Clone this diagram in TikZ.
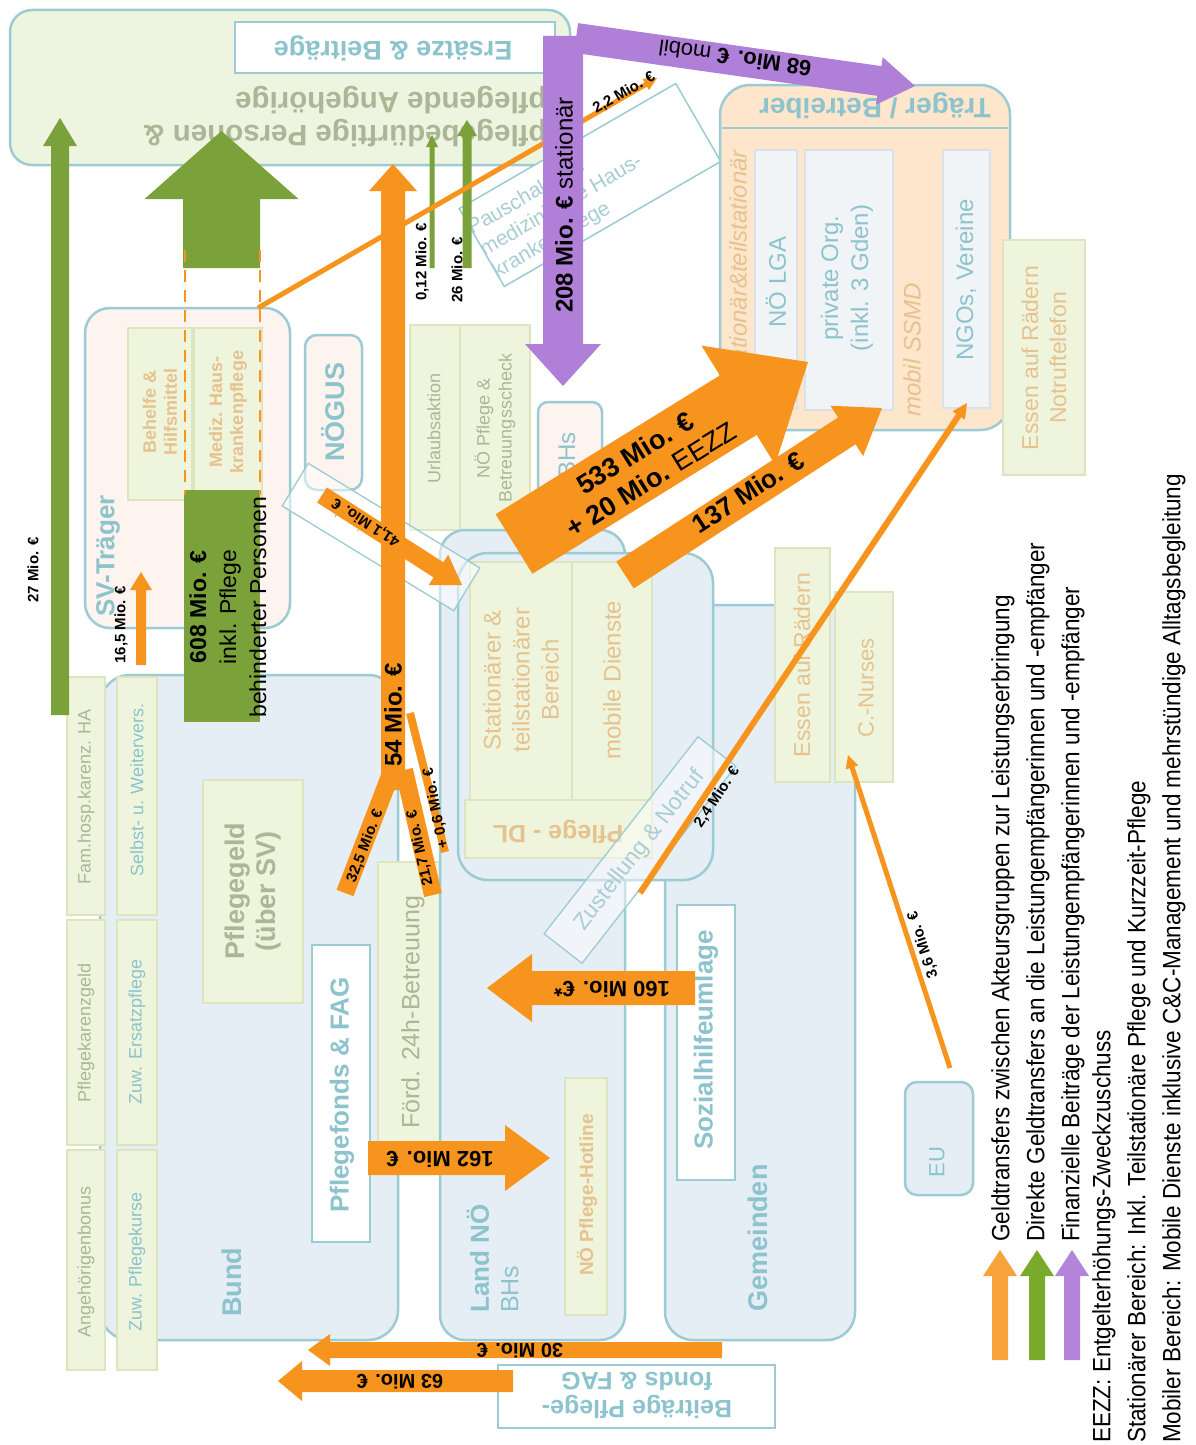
\documentclass[tikz,border=0pt]{standalone}
\usepackage{fontspec}
\setmainfont{Liberation Sans}
\newfontfamily\condfont{Liberation Sans}[FakeStretch=0.9]
\usetikzlibrary{calc,fit}
\definecolor{tealb}{HTML}{9CCBD3}
\definecolor{tealtxt}{HTML}{8CC3CD}
\definecolor{tealtxt2}{HTML}{A9CDD4}
\definecolor{tantxt}{HTML}{E6C28F}
\definecolor{ggtxt}{HTML}{ABB697}
\definecolor{pgreen}{HTML}{EEF5DC}
\definecolor{pgreenb}{HTML}{DCE5C0}
\definecolor{lblue}{HTML}{E6EEF5}
\definecolor{peach}{HTML}{FDE6CC}
\definecolor{pinkf}{HTML}{FDF3EF}
\definecolor{lgray}{HTML}{F1F4F7}
\definecolor{lgrayb}{HTML}{D8E2E8}
\definecolor{orng}{HTML}{F7941D}
\definecolor{grn}{HTML}{7BA23A}
\definecolor{purp}{HTML}{B07FD8}
\definecolor{lorng}{HTML}{F5A33A}
\definecolor{lgrn}{HTML}{7AAA2C}
\definecolor{lpurp}{HTML}{B384DA}
\definecolor{topfill}{HTML}{EDF5E0}
\newcommand\fsz[2]{\fontsize{#1}{#2}\selectfont}
\newcommand{\farrow}[6]{%
 \coordinate (hb) at ($(#2)!#5!(#1)$);
 \fill[#6] ($(#1)!#3!90:(#2)$) -- ($(hb)!#3!90:(#2)$) -- ($(hb)!#4!90:(#2)$) -- (#2)
   -- ($(hb)!#4!-90:(#2)$) -- ($(hb)!#3!-90:(#2)$) -- ($(#1)!#3!-90:(#2)$) -- cycle;}
\tikzset{
 grp/.style={draw=tealb, line width=2.5pt, fill=lblue, rounded corners=25pt, inner sep=0pt},
 gbox/.style={draw=pgreenb, line width=1.2pt, fill=pgreen, inner sep=0pt},
 wbox/.style={draw=tealb, line width=1.2pt, fill=white, inner sep=0pt},
 cbox/.style={draw=lgrayb, line width=1.2pt, fill=lgray, inner sep=0pt},
 lbl/.style={text=black, inner sep=0pt, font=\fsz{15}{17}\bfseries},
 tx/.style={inner sep=0pt, align=center}
}
\begin{document}
\begin{tikzpicture}[x=1pt,y=-1pt]
\useasboundingbox (0,0) rectangle (1195,1445);
\fill[white] (0,0) rectangle (1195,1445);

% ---------- top box
\node[grp, fill=topfill, rounded corners=22pt, fit={(10,10) (570,165)}] (pers) {};
\node[wbox, fit={(235,22) (555,73)}] (ersbox) {};
\node[tx, rotate=180, font=\fsz{27}{30}\bfseries, text=tealtxt] (ers) at (393,48) {Ersätze \& Beiträge};
\node[inner sep=0pt, rotate=180, align=left, font=\fsz{29.5}{33}\bfseries, text=ggtxt] (persT) at (345,117) {pflegebedürftige Personen \&\\pflegende Angehörige};

% ---------- Pauschale box
\node[draw=tealb, line width=1.5pt, fill=white, rotate=30, minimum width=250pt, minimum height=90pt] (pausch) at (590,185) {};
\node[inner sep=0pt, rotate=30, anchor=west, align=left, text=tealtxt2, font=\fsz{21}{25}] (pauschT) at (482,252) {Pauschale zur\\medizinische Haus-\\krankenpflege};

% ---------- SV-Träger
\node[grp, fill=pinkf, fit={(85,308) (290,628)}] (sv) {};
\node[gbox, fit={(128,328) (192,500)}] (behelfe) {};
\node[gbox, fit={(194,328) (262,500)}] (mediz) {};
\node[tx, rotate=90, text=tealtxt, font=\fsz{26}{30}\bfseries] (svT) at (108,556) {SV-Träger};
\node[tx, rotate=90, text=tantxt, font=\fsz{18}{21}\bfseries] (behelfeT) at (160,412) {Behelfe \&\\Hilfsmittel};
\node[tx, rotate=90, text=tantxt, font=\fsz{18}{21}\bfseries] (medizT) at (228,412) {Mediz. Haus-\\krankenpflege};

% ---------- NÖGUS
\node[grp, fill=pinkf, rounded corners=12pt, fit={(305,335) (362,490)}] (nogus) {};
\node[tx, rotate=90, text=tealtxt, font=\fsz{27}{30}\bfseries] (nogusT) at (333,412) {NÖGUS};

% ---------- Urlaubsaktion, Scheck
\node[gbox, fit={(410,325) (460,530)}] (url) {};
\node[gbox, fit={(460,325) (530,530)}] (scheck) {};
\node[tx, rotate=90, text=ggtxt, font=\fsz{18}{21}] (urlT) at (434,428) {Urlaubsaktion};
\node[tx, rotate=90, text=ggtxt, font=\fsz{18}{22}] (scheckT) at (495,428) {NÖ Pflege \&\\Betreuungsscheck};

% ---------- BHs
\node[grp, fill=pinkf, rounded corners=10pt, fit={(538,402) (602,540)}] (bhs) {};
\node[tx, rotate=90, text=tealtxt, font=\fsz{24}{28}] (bhsT) at (567,455) {BHs};

% ---------- Träger / Betreiber
\node[grp, fill=peach, rounded corners=30pt, fit={(720,85) (1010,430)}] (traeger) {};
\coordinate (th1) at (722,128); \coordinate (th2) at (1008,128);
\draw[tealb, line width=2pt] (th1) -- (th2);
\node[tx, rotate=180, text=tealtxt, font=\fsz{28}{30}\bfseries] (traegerT) at (875,106) {Träger / Betreiber};
\node[cbox, fit={(755,150) (797,408)}] (lga) {};
\node[cbox, fit={(805,150) (893,410)}] (priv) {};
\node[cbox, fit={(943,150) (990,408)}] (ngo) {};
\node[inner sep=0pt, rotate=90, anchor=east, text=tantxt, font=\fsz{24}{28}\itshape] (statT) at (738,150) {stationär\&teilstationär};
\node[tx, rotate=90, text=tealtxt, font=\fsz{24}{28}] (lgaT) at (776,282) {NÖ LGA};
\node[tx, rotate=90, text=tealtxt, font=\fsz{24}{30}] (privT) at (847,278) {private Org.\\(inkl. 3 Gden)};
\node[tx, rotate=90, text=tantxt, font=\fsz{24}{28}\itshape] (ssmdT) at (912,350) {mobil SSMD};
\node[tx, rotate=90, text=tealtxt, font=\fsz{24}{28}] (ngoT) at (966,280) {NGOs, Vereine};

% ---------- Essen / Notruf
\node[gbox, fit={(1003,240) (1085,475)}] (essen1) {};
\node[tx, rotate=90, text=tantxt, font=\fsz{23}{28}] (essen1T) at (1044,358) {Essen auf Rädern\\Notruftelefon};

% ---------- Bund
\node[grp, rounded corners=30pt, fit={(100,675) (398,1340)}] (bund) {};
\node[tx, rotate=90, text=tealtxt, font=\fsz{27}{30}\bfseries] (bundT) at (232,1282) {Bund};
\node[gbox, fit={(203,780) (303,1003)}] (pgeld) {};
\node[tx, rotate=90, text=ggtxt, font=\fsz{27}{31}\bfseries] (pgeldT) at (253,891) {Pflegegeld\\(über SV)};
\node[wbox, fit={(312,945) (370,1242)}] (pfonds) {};
\node[tx, rotate=90, text=tealtxt, font=\fsz{26}{30}\bfseries] (pfondsT) at (342,1095) {Pflegefonds \& FAG};

% strips
\node[gbox, fit={(67,677) (105,915)}] (s11) {};
\node[gbox, fit={(67,920) (105,1145)}] (s12) {};
\node[gbox, fit={(67,1150) (105,1370)}] (s13) {};
\node[gbox, fit={(117,677) (157,915)}] (s21) {};
\node[gbox, fit={(117,920) (157,1145)}] (s22) {};
\node[gbox, fit={(117,1150) (157,1370)}] (s23) {};
\node[tx, rotate=90, text=ggtxt, font=\fsz{18}{21}] (s11T) at (86,797) {Fam.hosp.karenz. HA};
\node[tx, rotate=90, text=ggtxt, font=\fsz{18}{21}] (s12T) at (86,1033) {Pflegekarenzgeld};
\node[tx, rotate=90, text=ggtxt, font=\fsz{18}{21}] (s13T) at (86,1262) {Angehörigenbonus};
\node[tx, rotate=90, text=tealtxt, font=\fsz{18}{21}] (s21T) at (137,790) {Selbst- u. Weitervers.};
\node[tx, rotate=90, text=tealtxt, font=\fsz{18}{21}] (s22T) at (137,1032) {Zuw. Ersatzpflege};
\node[tx, rotate=90, text=tealtxt, font=\fsz{18}{21}] (s23T) at (137,1262) {Zuw. Pflegekurse};

% ---------- Förd. 24h
\node[gbox, fit={(378,862) (445,1145)}] (foerd) {};
\node[tx, rotate=90, text=ggtxt, font=\fsz{25}{28}] (foerdT) at (413,1012) {Förd. 24h-Betreuung};

% ---------- Land NÖ
\node[grp, fit={(440,530) (625,1340)}] (land) {};
\node[inner sep=0pt, rotate=90, anchor=west, text=tealtxt, font=\fsz{26}{30}\bfseries] (landT) at (478,1313) {Land NÖ};
\node[inner sep=0pt, rotate=90, anchor=west, text=tealtxt, font=\fsz{25}{28}] (landT2) at (510,1313) {BHs};
\node[gbox, fit={(565,1078) (607,1315)}] (hotline) {};
\node[tx, rotate=90, text=tantxt, font=\fsz{19}{22}\bfseries] (hotlineT) at (587,1195) {NÖ Pflege-Hotline};

% ---------- Gemeinden
\node[grp, rounded corners=28pt, fit={(665,605) (855,1340)}] (gem) {};
\node[tx, rotate=90, text=tealtxt, font=\fsz{27}{30}\bfseries] (gemT) at (758,1238) {Gemeinden};
\node[wbox, fit={(677,905) (735,1180)}] (shu) {};
\node[tx, rotate=90, text=tealtxt, font=\fsz{26}{30}\bfseries] (shuT) at (706,1040) {Sozialhilfeumlage};
\node[gbox, fit={(775,548) (830,782)}] (essen2) {};
\node[tx, rotate=90, text=tantxt, font=\fsz{23}{27}] (essen2T) at (802,665) {Essen auf Rädern};
\node[gbox, fit={(835,592) (893,782)}] (cn) {};
\node[tx, rotate=90, text=tantxt, font=\fsz{22}{26}] (cnT) at (866,688) {C.-Nurses};

% ---------- Pflege-DL
\node[grp, rounded corners=30pt, fit={(458,553) (713,880)}] (pdl) {};
\node[gbox, fit={(470,562) (572,800)}] (stat) {};
\node[gbox, fit={(572,562) (652,800)}] (mob) {};
\node[gbox, fit={(465,800) (652,858)}] (pdlstrip) {};
\node[tx, rotate=90, text=tantxt, font=\fsz{24}{29}] (statT2) at (521,680) {Stationärer \&\\teilstationärer\\Bereich};
\node[tx, rotate=90, text=tantxt, font=\fsz{24}{28}] (mobT) at (612,680) {mobile Dienste};
\node[tx, rotate=180, text=tantxt, font=\fsz{25}{28}\bfseries] (pdlT) at (558,832) {Pflege - DL};

% ---------- Zustellung & Notruf
\node[draw=tealb, line width=1.3pt, fill=white, fill opacity=0.45, text opacity=1, rotate=52, minimum width=250pt, minimum height=48pt, text=tealtxt2, font=\fsz{23}{26}] (zust) at (640,850) {Zustellung \& Notruf};

% ---------- tilted box near NÖGUS
\node[draw=tealb, line width=1.3pt, fill=white, fill opacity=0.5, text opacity=1, rotate=148.6, minimum width=201pt, minimum height=50pt, text=tealtxt2, font=\fsz{20}{24}] (fmit) at (381,537) {Fondsmittel};

% ---------- Beiträge box, EU
\node[wbox, fit={(498,1365) (775,1428)}] (beitr) {};
\node[tx, rotate=180, text=tealtxt, font=\fsz{25}{28}\bfseries] (beitrT) at (637,1395) {Beiträge Pflege-\\fonds \& FAG};
\node[grp, rounded corners=12pt, fit={(905,1082) (973,1195)}] (eu) {};
\node[tx, rotate=90, text=tealtxt, font=\fsz{22}{26}] (euT) at (937,1162) {EU};

% ================= ARROWS
% green
\coordinate (g1s) at (60,715); \coordinate (g1t) at (60,118);
\farrow{g1s}{g1t}{9pt}{17pt}{28pt}{grn}
\coordinate (g2s) at (221.5,268); \coordinate (g2t) at (221.5,131);
\farrow{g2s}{g2t}{38.5pt}{77pt}{68pt}{grn}
\node[fill=grn, inner sep=0pt, fit={(184,490) (260,722)}] (g608) {};
\node[tx, rotate=90, font=\fsz{23}{30}] (g608T) at (228,607) {\textbf{608 Mio. €}\\inkl. Pflege\\behinderter Personen};
\coordinate (g3s) at (432,268); \coordinate (g3t) at (432,135);
\farrow{g3s}{g3t}{2.5pt}{6pt}{12pt}{grn}
\coordinate (g4s) at (467,268); \coordinate (g4t) at (467,120);
\farrow{g4s}{g4t}{4.5pt}{10pt}{16pt}{grn}
\node[lbl, rotate=90] (l27) at (33,570) {27 Mio. €};
\node[lbl, rotate=90] (l012) at (422,262) {0,12 Mio. €};
\node[lbl, rotate=90] (l26) at (457,270) {26 Mio. €};

% dashed outline of big green arrow
\coordinate (d1a) at (185,250); \coordinate (d1b) at (185,495);
\coordinate (d2a) at (260,250); \coordinate (d2b) at (260,495);
\draw[orng, line width=2.5pt, dash pattern=on 12pt off 8pt] (d1a) -- (d1b);
\draw[orng, line width=2.5pt, dash pattern=on 12pt off 8pt] (d2a) -- (d2b);

% orange
\coordinate (o22s) at (258,308); \coordinate (o22t) at (657,78);
\farrow{o22s}{o22t}{2.5pt}{6.5pt}{13pt}{orng}
\node[lbl, rotate=30] (l22) at (624,93) {2,2 Mio. €};

% purple
\coordinate (p208s) at (563,36); \coordinate (p208t) at (563,386);
\farrow{p208s}{p208t}{20pt}{38pt}{42pt}{purp}
\node[tx, rotate=90, font=\fsz{24}{28}] (l208) at (564,205) {\textbf{208 Mio. €} stationär};
\coordinate (p68s) at (576,38); \coordinate (p68t) at (915,86);
\farrow{p68s}{p68t}{15pt}{24pt}{36pt}{purp}
\node[tx, rotate=171.9, font=\fsz{22}{26}] (l68) at (735,58) {\textbf{68 Mio. €} mobil};

\coordinate (o54s) at (393,790); \coordinate (o54t) at (393,164);
\farrow{o54s}{o54t}{12pt}{24pt}{27pt}{orng}
\coordinate (b1s) at (390,776); \coordinate (b1e) at (345,893);
\draw[orng, line width=18pt] (b1s) -- (b1e);
\coordinate (b2s) at (404,770); \coordinate (b2e) at (433,895);
\draw[orng, line width=18pt] (b2s) -- (b2e);
\coordinate (b3s) at (410,713); \coordinate (b3e) at (445,852);
\draw[orng, line width=8pt] (b3s) -- (b3e);
\node[tx, rotate=90, font=\fsz{24}{28}\bfseries] (l54) at (393,715) {54 Mio. €};
\node[lbl, rotate=69] (l325) at (365,846) {32,5 Mio. €};
\node[lbl, rotate=102.5] (l217) at (420,848) {21,7 Mio. €};
\node[lbl, rotate=101] (l06) at (436,808) {+ 0,6 Mio. €};

\coordinate (o165s) at (141,665); \coordinate (o165t) at (141,572);
\farrow{o165s}{o165t}{5pt}{11pt}{18pt}{orng}
\node[lbl, rotate=90] (l165) at (121,625) {16,5 Mio. €};

\coordinate (o411s) at (322,495); \coordinate (o411t) at (462,585);
\farrow{o411s}{o411t}{9pt}{18pt}{28pt}{orng}
\node[lbl, rotate=147.3] (l411) at (366,522) {41,1 Mio. €};

\coordinate (o533s) at (514,544); \coordinate (o533t) at (808,362);
\farrow{o533s}{o533t}{35pt}{70pt}{82pt}{orng}
\node[tx, rotate=31.8, font=\fsz{27}{31}] (l533) at (643,466) {\textbf{533 Mio. €}\\\textbf{+ 20 Mio.} EEZZ};

\coordinate (o137s) at (625,575); \coordinate (o137t) at (882,408);
\farrow{o137s}{o137t}{16pt}{30pt}{42pt}{orng}
\node[tx, rotate=33, font=\fsz{26}{30}\bfseries] (l137) at (748,492) {137 Mio. €};

\coordinate (o24s) at (640,893); \coordinate (o24t) at (967,403);
\farrow{o24s}{o24t}{3pt}{7.5pt}{15pt}{orng}
\node[lbl, rotate=56.3] (l24) at (717,797) {2,4 Mio. €};

\coordinate (o36s) at (950,1068); \coordinate (o36t) at (848,755);
\farrow{o36s}{o36t}{2.5pt}{6.5pt}{13pt}{orng}
\node[lbl, rotate=108.3] (l36) at (923,945) {3,6 Mio. €};

\coordinate (o162s) at (368,1158); \coordinate (o162t) at (550,1158);
\farrow{o162s}{o162t}{17pt}{33pt}{45pt}{orng}
\node[tx, rotate=180, font=\fsz{22}{26}\bfseries] (l162) at (440,1159) {162 Mio. €};

\coordinate (o160s) at (695,988); \coordinate (o160t) at (487,988);
\farrow{o160s}{o160t}{17pt}{34pt}{45pt}{orng}
\node[tx, rotate=180, font=\fsz{22}{26}\bfseries] (l160) at (612,989) {160 Mio. €*};

\coordinate (o30s) at (722,1350); \coordinate (o30t) at (308,1350);
\farrow{o30s}{o30t}{8pt}{16pt}{22pt}{orng}
\node[tx, rotate=180, font=\fsz{20}{24}\bfseries] (l30) at (520,1351) {30 Mio. €};

\coordinate (o63s) at (513,1381); \coordinate (o63t) at (278,1381);
\farrow{o63s}{o63t}{11pt}{20pt}{24pt}{orng}
\node[tx, rotate=180, font=\fsz{20}{24}\bfseries] (l63) at (400,1382) {63 Mio. €};

% ---------- legend
\coordinate (lo1) at (1000,1360); \coordinate (lo2) at (1000,1250);
\farrow{lo1}{lo2}{8pt}{17pt}{26pt}{lorng}
\coordinate (lg1) at (1037,1360); \coordinate (lg2) at (1037,1250);
\farrow{lg1}{lg2}{8pt}{17pt}{26pt}{lgrn}
\coordinate (lp1) at (1072,1360); \coordinate (lp2) at (1072,1250);
\farrow{lp1}{lp2}{8pt}{17pt}{26pt}{lpurp}
\tikzset{leg/.style={inner sep=0pt, rotate=90, anchor=west, font=\condfont\fsz{25}{28}}}
\node[leg] (leg1) at (1003,1242) {Geldtransfers zwischen Akteursgruppen zur Leistungserbringung};
\node[leg] (leg2) at (1038,1242) {Direkte Geldtransfers an die Leistungempfängerinnen und -empfänger};
\node[leg] (leg3) at (1073,1242) {Finanzielle Beiträge der Leistungempfängerinnen und -empfänger};
\node[leg] (leg4) at (1104,1443) {EEZZ: Entgelterhöhungs-Zweckzuschuss};
\node[leg] (leg5) at (1139,1443) {Stationärer Bereich: Inkl. Teilstationäre Pflege und Kurzzeit-Pflege};
\node[leg] (leg6) at (1174,1443) {Mobiler Bereich: Mobile Dienste inklusive C\&C-Management und mehrstündige Alltagsbegleitung};
\end{tikzpicture}
\end{document}
